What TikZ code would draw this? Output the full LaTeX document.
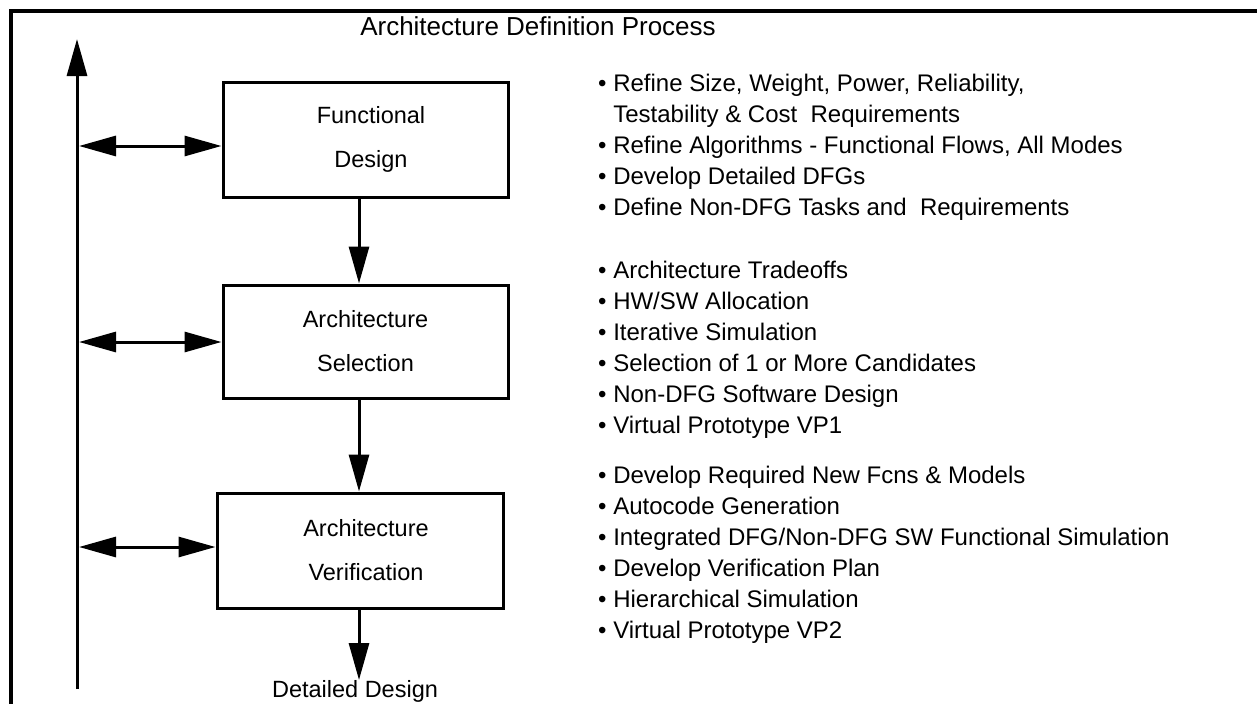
\documentclass[tikz,border=0pt]{standalone}
\usepackage{fontspec}
\setmainfont{Liberation Sans}
\usetikzlibrary{arrows.meta}
\begin{document}
\begin{tikzpicture}[x=1pt,y=-1pt,
  >={Triangle[length=37pt,width=20pt]},
  conn/.style={line width=3pt},
  box/.style={draw,line width=3pt,minimum width=285pt,minimum height=115pt,align=center,inner sep=0pt,font=\fontsize{23.5}{44}\selectfont},
  list/.style={anchor=west,align=left,inner sep=0pt,font=\fontsize{24}{31}\selectfont},
  lbl/.style={inner sep=0pt,font=\fontsize{23.5}{28}\selectfont}]
\useasboundingbox (0,0) rectangle (1257,704);
% frame
\draw[line width=3.4pt] (1257,11) -- (11,11) -- (11,704);
% title
\node[inner sep=0pt,font=\fontsize{26}{30}\selectfont] (title) at (538,26) {Architecture Definition Process};
% boxes
\node[box] (f) at (365.5,139.5) {\hspace*{11pt}Functional\\\hspace*{11pt}Design};
\node[box,minimum height=113pt] (s) at (365.5,341.5) {Architecture\\Selection};
\node[box,minimum width=286pt] (v) at (360,550.5) {\hspace*{12pt}Architecture\\\hspace*{12pt}Verification};
\node[lbl,anchor=north] (dd) at (355,680) {Detailed Design};
% vertical feedback line
\coordinate (vb) at (77,689);
\coordinate (vt) at (77,39);
\draw[conn,->] (vb) -- (vt);
% horizontal double arrows
\coordinate (h1) at (79,146);
\coordinate (h2) at (79,342);
\coordinate (h3) at (79,547);
\draw[conn,<->] (h1) -- (h1 -| f.west);
\draw[conn,<->] (h2) -- (h2 -| s.west);
\draw[conn,<->] (h3) -- (h3 -| v.west);
% down arrows
\draw[conn,->] ([xshift=-6.5pt]f.south) -- ([xshift=-6.5pt]s.north);
\draw[conn,->] ([xshift=-6.5pt]s.south) -- ([xshift=-6.5pt]s.south |- v.north);
\draw[conn,->] ([xshift=-1pt]v.south) -- ([xshift=-1pt]v.south |- dd.north);
% lists
\node[list] (l1) at (598,147) {• Refine Size, Weight, Power, Reliability,\\\hphantom{•\ }Testability \& Cost\ \ Requirements\\• Refine Algorithms - Functional Flows, All Modes\\• Develop Detailed DFGs\\• Define Non-DFG Tasks and\ \ Requirements};
\node[list] (l2) at (598,350) {• Architecture Tradeoffs\\• HW/SW Allocation\\• Iterative Simulation\\• Selection of 1 or More Candidates\\• Non-DFG Software Design\\• Virtual Prototype VP1};
\node[list] (l3) at (598,555) {• Develop Required New Fcns \& Models\\• Autocode Generation\\• Integrated DFG/Non-DFG SW Functional Simulation\\• Develop Verification Plan\\• Hierarchical Simulation\\• Virtual Prototype VP2};
\end{tikzpicture}
\end{document}
